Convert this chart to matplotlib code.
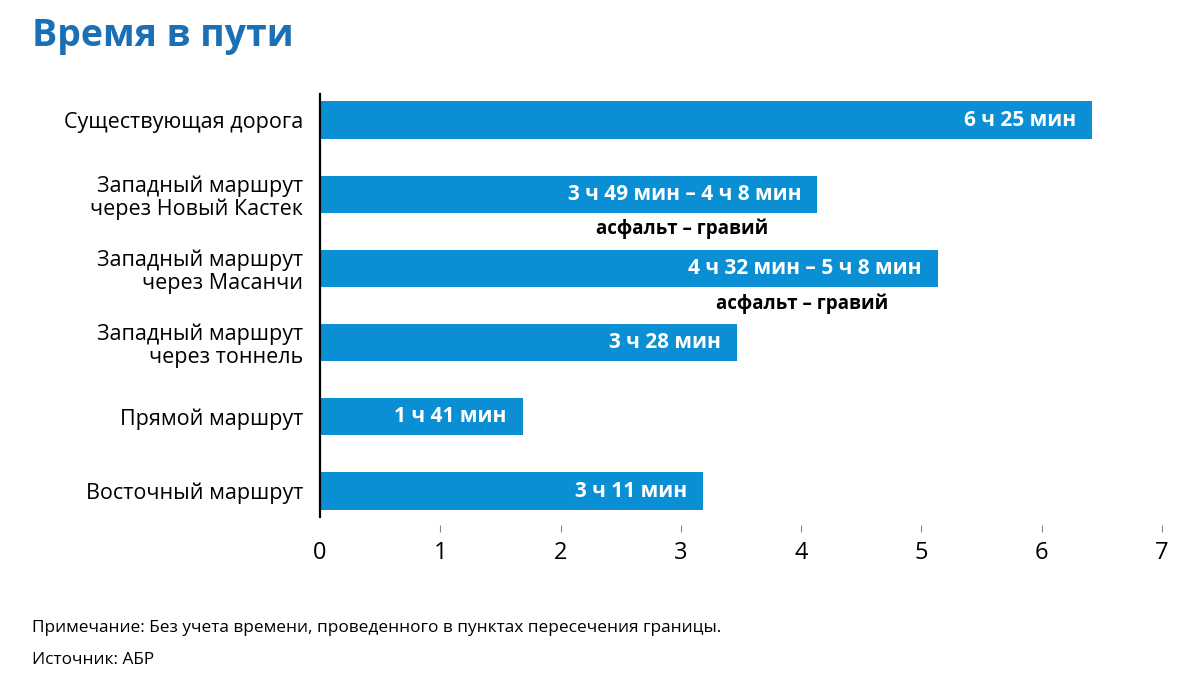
#!/usr/bin/env python3
# travel_time.py

import matplotlib
matplotlib.use("Agg")
import matplotlib.pyplot as plt

routes = [
    "Существующая дорога",
    "Западный маршрут\nчерез Новый Кастек",
    "Западный маршрут\nчерез Масанчи",
    "Западный маршрут\nчерез тоннель",
    "Прямой маршрут",
    "Восточный маршрут",
]
# hours (upper bound for the ranges)
hours = [6 + 25 / 60, 4 + 8 / 60, 5 + 8 / 60, 3 + 28 / 60, 1 + 41 / 60, 3 + 11 / 60]
bar_labels = [
    "6 ч 25 мин",
    "3 ч 49 мин – 4 ч 8 мин",
    "4 ч 32 мин – 5 ч 8 мин",
    "3 ч 28 мин",
    "1 ч 41 мин",
    "3 ч 11 мин",
]
sub_labels = ["", "асфальт – гравий", "асфальт – гравий", "", "", ""]
x_ticks = [0, 1, 2, 3, 4, 5, 6, 7]

BAR_COLOR = "#0a8fd4"
TITLE_COLOR = "#1a6fb5"

plt.rcParams["font.family"] = ["Open Sans", "DejaVu Sans"]


def plot(fig):
    ax = fig.add_axes([0.2667, 0.2397, 0.7017, 0.622])
    # spine position first: it resets the tick settings
    for s in ["top", "right"]:
        ax.spines[s].set_visible(False)
    ax.spines["bottom"].set_position(("outward", 6))
    ax.spines["bottom"].set_visible(False)
    ax.spines["left"].set_linewidth(1.6)
    ax.spines["left"].set_color("black")

    y = list(range(len(routes)))
    ax.barh(y, hours, height=0.5, color=BAR_COLOR, left=0)

    for yi, h, lab, sub in zip(y, hours, bar_labels, sub_labels):
        ax.annotate(lab, (h, yi), xytext=(-16, 0), textcoords="offset pixels",
                    ha="right", va="center", color="white",
                    fontsize=15, fontweight="bold")
        if sub:
            ax.annotate(sub, (h, yi), xytext=(-135, -35), textcoords="offset pixels",
                        ha="center", va="center", color="black",
                        fontsize=13.5, fontweight="bold")

    ax.set_xlim(0, 7)
    ax.set_ylim(len(routes) - 0.65, -0.35)
    ax.set_yticks(y)
    ax.set_yticklabels(routes, fontsize=15.5, linespacing=1.1)
    ax.set_xticks(x_ticks)
    ax.set_xticklabels([str(t) for t in x_ticks], fontsize=17)

    ax.tick_params(axis="y", length=0, pad=12)
    ax.tick_params(axis="x", length=5, width=0.8, color="#888888", pad=6)
    # no tick mark at zero
    ax.xaxis.get_major_ticks()[0].tick1line.set_visible(False)

    fig.text(0.027, 0.947, "Время в пути", fontsize=27, fontweight="bold",
             color=TITLE_COLOR, va="center", ha="left")
    fig.text(0.027, 0.077,
             "Примечание: Без учета времени, проведенного в пунктах пересечения границы.",
             fontsize=12.4, va="center", ha="left")
    fig.text(0.027, 0.030, "Источник: АБР", fontsize=12.4, va="center", ha="left")


def main():
    fig = plt.figure(figsize=(12, 6.8), dpi=100)
    plot(fig)
    fig.savefig("out.png", dpi=100)


if __name__ == "__main__":
    main()
